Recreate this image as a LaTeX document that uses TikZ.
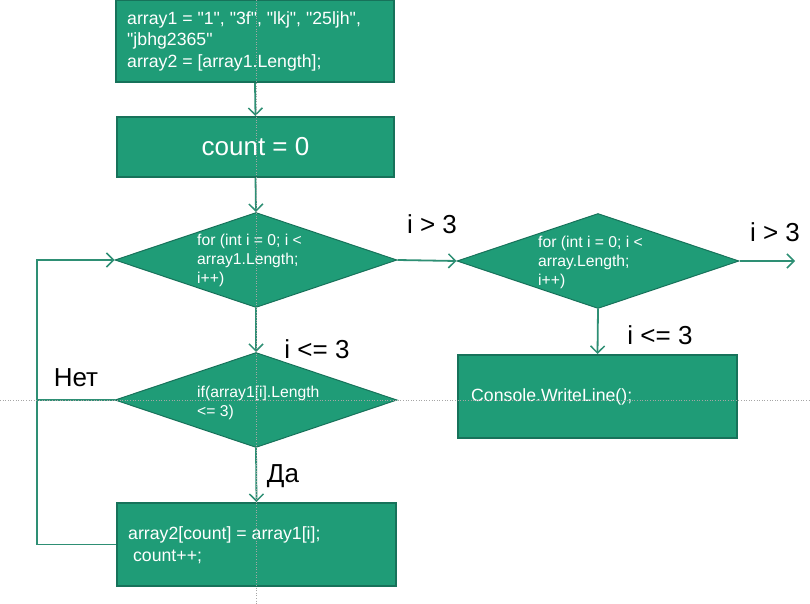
\documentclass[tikz,border=0pt]{standalone}
\usepackage{fontspec}
\setmainfont{Liberation Sans}[Ligatures=TeXOff]
\usetikzlibrary{shapes.geometric,arrows.meta}
\definecolor{boxfill}{HTML}{1F9C77}
\definecolor{boxline}{HTML}{17725A}
\definecolor{arrowc}{HTML}{2E8F74}
\tikzset{
  greenbox/.style={draw=boxline, fill=boxfill, line width=2pt, rectangle, inner sep=0pt, text=white},
  greendia/.style={draw=boxline, fill=boxfill, line width=1pt, diamond, inner sep=0pt, minimum width=282pt, minimum height=95pt},
  diatext/.style={text=white, anchor=west, align=left, inner sep=0pt, font=\fontsize{15.7}{19}\selectfont},
  boxtext/.style={text=white, anchor=west, align=left, inner sep=0pt, font=\fontsize{17.7}{21.5}\selectfont},
  lbl/.style={text=black, inner sep=0pt, font=\fontsize{26}{30}\selectfont},
  conn/.style={draw=arrowc, line width=1.8pt, -{Straight Barb[length=7pt,width=14pt,line width=1.5pt]}},
  plainconn/.style={draw=arrowc, line width=1.8pt},
  guide/.style={draw=gray!70, dotted, line width=0.6pt}
}
\begin{document}
\begin{tikzpicture}[x=1pt,y=-1pt]
\useasboundingbox (0,0) rectangle (810,604);
% boxes
\node[greenbox, minimum width=278pt, minimum height=82pt] (b1) at (255,41) {};
\node[boxtext] (t1) at (127,41) {array1 = "1", "3f", "lkj", "25ljh",\\"jbhg2365"\\array2 = [array1.Length];};
\node[greenbox, minimum width=277pt, minimum height=60pt, font=\fontsize{26}{30}\selectfont] (b2) at (255.5,147) {count = 0};
\node[greendia] (d1) at (256,260) {};
\node[diatext] (t2) at (197,260) {for (int i = 0; i <\\array1.Length;\\i++)};
\node[greendia] (d2) at (256,400) {};
\node[diatext] (t3) at (197,402.5) {if(array1[i].Length\\<= 3)};
\node[greenbox, minimum width=279pt, minimum height=83pt] (b3) at (256.5,544.5) {};
\node[boxtext] (t4) at (128,545) {array2[count] = array1[i];\\ \ count++;};
\node[greendia] (d3) at (598,261) {};
\node[diatext] (t5) at (538,262) {for (int i = 0; i <\\array.Length;\\i++)};
\node[greenbox, minimum width=279pt, minimum height=83pt] (b4) at (597.5,396.5) {};
\node[boxtext] (t6) at (471,397) {Console.WriteLine();};
% coordinates
\coordinate (lt) at (37,260);
\coordinate (lm) at (37,400);
\coordinate (ex) at (795,261);
% connectors
\draw[conn] (b1.south) -- (b2.north);
\draw[conn] (b2.south) -- (d1.north);
\draw[conn] (d1.south) -- (d2.north);
\draw[conn] (d2.south) -- (b3.north);
\draw[conn] (b3.west) -- (b3.west -| lt) -- (lt) -- (d1.west);
\draw[plainconn] (d2.west) -- (lm);
\draw[conn] (d1.east) -- (d3.west);
\draw[conn] (d3.east) -- (ex);
\draw[conn] (d3.south) -- (b4.north);
% labels
\node[lbl] (l1) at (432,224) {i > 3};
\node[lbl] (l2) at (317,349) {i <= 3};
\node[lbl] (l3) at (76,378) {Нет};
\node[lbl] (l4) at (283,476) {Да};
\node[lbl] (l5) at (775,232) {i > 3};
\node[lbl] (l6) at (660,335) {i <= 3};
% guides
\draw[guide] (256,0) -- (256,604);
\draw[guide] (0,400) -- (810,400);
\end{tikzpicture}
\end{document}
